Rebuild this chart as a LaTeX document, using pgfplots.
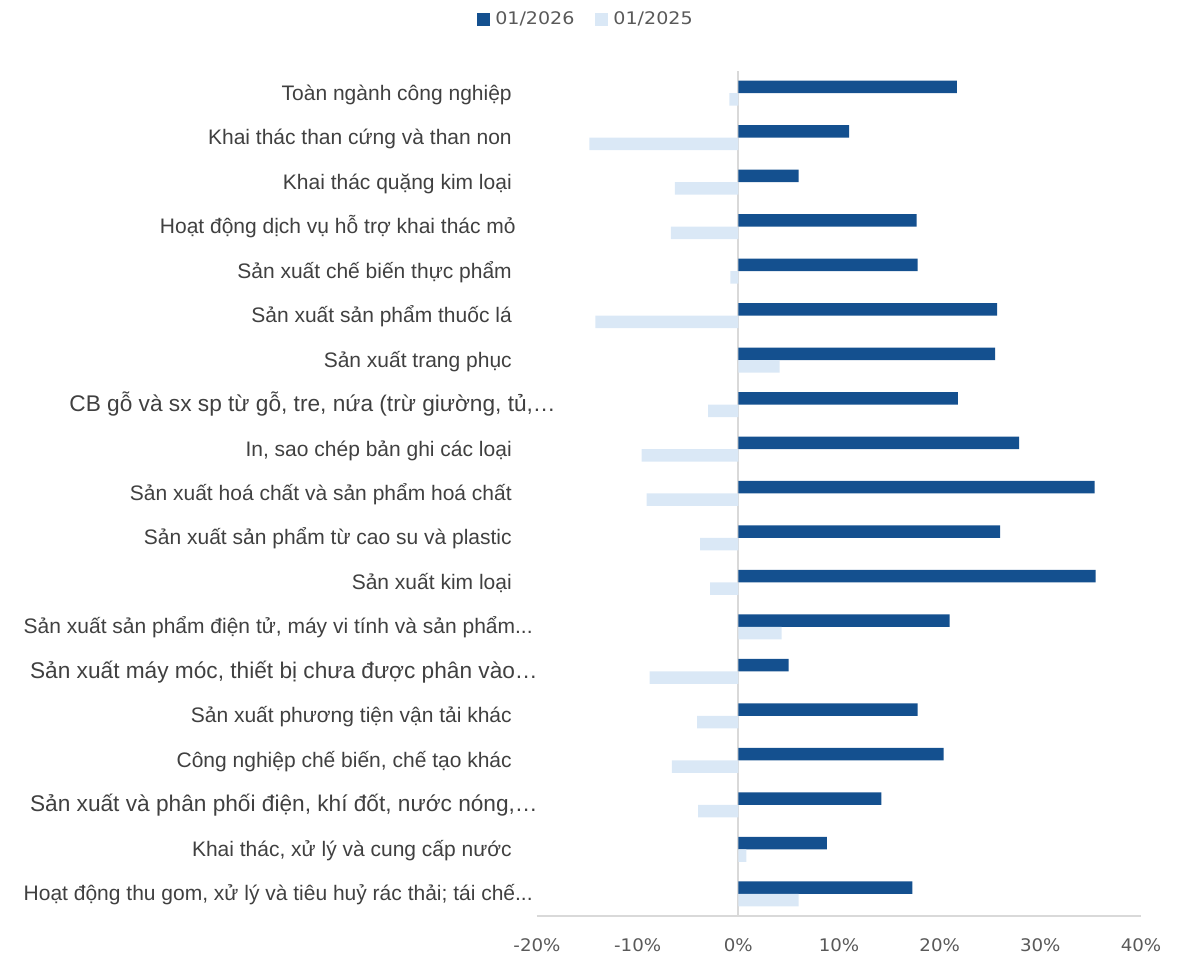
\documentclass[border=0pt]{standalone}
\usepackage{pgfplots}
\pgfplotsset{compat=1.18}
\usepackage{fontspec}
\setmainfont{Liberation Sans}
\newfontfamily\tickfont[FakeStretch=1.05]{DejaVu Sans}
\newfontfamily\legfont[FakeStretch=1.1]{DejaVu Sans}
\definecolor{dark}{HTML}{14508F}
\definecolor{light}{HTML}{DAE8F6}
\definecolor{axgray}{HTML}{D9D9D9}
\definecolor{lbl}{HTML}{404040}
\definecolor{tck}{HTML}{595959}
\newcommand{\biglbl}[1]{{\fontsize{17}{19}\selectfont #1}}
\newcommand{\tdots}{.\relax.\relax.}
\begin{document}
\begin{tikzpicture}
\useasboundingbox (-402.75pt,-29.25pt) rectangle (492pt,687pt);
\begin{axis}[
  at={(0pt,0pt)}, anchor=south west,
  scale only axis, width=453pt, height=633.75pt,
  xmin=-20, xmax=40, ymin=-0.5, ymax=18.5,
  xbar, bar width=9.375pt,
  xtick={-20,-10,0,10,20,30,40},
  xticklabels={-20\%,-10\%,0\%,10\%,20\%,30\%,40\%},
  ytick={0,1,2,3,4,5,6,7,8,9,10,11,12,13,14,15,16,17,18},
  yticklabels={
    {Hoạt động thu gom, xử lý và tiêu huỷ rác thải; tái chế\tdots\kern-15.75pt},
    {Khai thác, xử lý và cung cấp nước},
    {\biglbl{Sản xuất và phân phối điện, khí đốt, nước nóng,…}\kern-19.5pt},
    {Công nghiệp chế biến, chế tạo khác},
    {Sản xuất phương tiện vận tải khác},
    {\biglbl{Sản xuất máy móc, thiết bị chưa được phân vào…}\kern-19.5pt},
    {Sản xuất sản phẩm điện tử, máy vi tính và sản phẩm\tdots\kern-15.75pt},
    {Sản xuất kim loại},
    {Sản xuất sản phẩm từ cao su và plastic},
    {Sản xuất hoá chất và sản phẩm hoá chất},
    {In, sao chép bản ghi các loại},
    {\biglbl{CB gỗ và sx sp từ gỗ, tre, nứa (trừ giường, tủ,…}\kern-33pt},
    {Sản xuất trang phục},
    {Sản xuất sản phẩm thuốc lá},
    {Sản xuất chế biến thực phẩm},
    {Hoạt động dịch vụ hỗ trợ khai thác mỏ\kern-3pt},
    {Khai thác quặng kim loại},
    {Khai thác than cứng và than non},
    {Toàn ngành công nghiệp}
  },
  axis x line*=bottom, axis y line*=left,
  x axis line style={draw=axgray, line width=1.5pt},
  y axis line style={draw=none},
  major tick length=0pt,
  xticklabel style={font=\tickfont\fontsize{13}{15}\selectfont, text=tck, anchor=base, yshift=-27pt, inner sep=0pt},
  yticklabel style={font=\fontsize{15.75}{18}\selectfont, text=lbl, anchor=base east, inner sep=0pt, xshift=-18.75pt, yshift=-5.25pt},
  extra x ticks={0}, extra x tick labels={},
  extra x tick style={grid=major, major grid style={draw=axgray, line width=1.5pt}},
  legend columns=2,
  legend style={at={(0.0836,1.0609)}, anchor=center, draw=none, fill=none,
    font=\legfont\fontsize{13}{15}\selectfont, text=tck,
    /tikz/every even column/.append style={column sep=12pt},
    inner sep=0pt, nodes={inner xsep=3.75pt, inner ysep=0pt}},
  legend image code/.code={\fill[#1] (0pt,-4.875pt) rectangle (9.75pt,4.875pt);},
]
\addplot[fill=dark, draw=none, bar shift=4.6875pt] coordinates {
  (17.3,0) (8.8,1) (14.2,2) (20.4,3) (17.8,4) (5.0,5) (21.0,6) (35.5,7) (26.0,8) (35.4,9)
  (27.9,10) (21.8,11) (25.5,12) (25.7,13) (17.8,14) (17.7,15) (6.0,16) (11.0,17) (21.7,18)
};
\addlegendentry{01/2026}
\addplot[fill=light, draw=none, bar shift=-4.6875pt] coordinates {
  (6.0,0) (0.8,1) (-4.0,2) (-6.6,3) (-4.1,4) (-8.8,5) (4.3,6) (-2.8,7) (-3.8,8) (-9.1,9)
  (-9.6,10) (-3.0,11) (4.1,12) (-14.2,13) (-0.8,14) (-6.7,15) (-6.3,16) (-14.8,17) (-0.9,18)
};
\addlegendentry{01/2025}
\end{axis}
\end{tikzpicture}
\end{document}
